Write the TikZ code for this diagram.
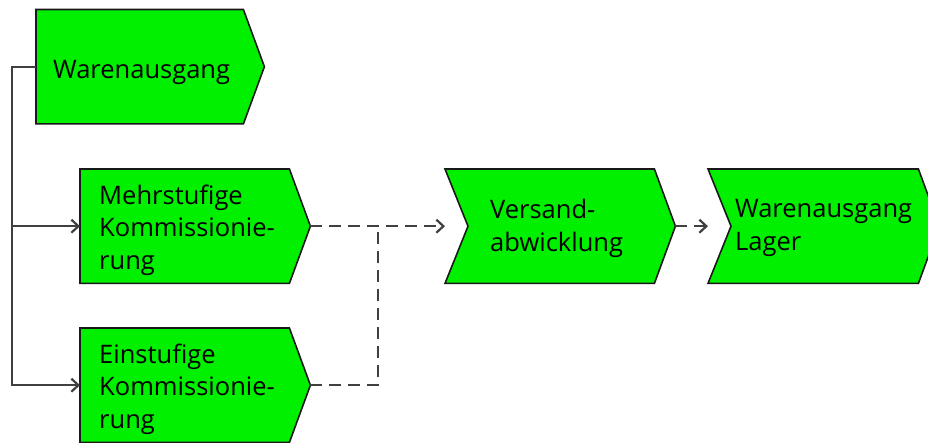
\documentclass[tikz,border=0pt]{standalone}
\usepackage{fontspec}
\setmainfont{Open Sans}
\usetikzlibrary{arrows.meta,calc,backgrounds}
\definecolor{fngreen}{RGB}{0,240,0}
\definecolor{conngray}{RGB}{64,64,64}
\newcommand{\lowr}[2]{\raisebox{-#1pt}[\height][\depth]{#2}}
\tikzset{
  fn/.style={minimum height=114, inner ysep=0, anchor=north west, align=left,
    font=\fontsize{25.5}{32.5}\selectfont, text=black, draw=none},
  fnshape/.style={fill=fngreen, draw=black!90, line width=1.6pt, line join=miter},
  conn/.style={draw=conngray, line width=2pt},
  dconn/.style={conn, dash pattern=on 12pt off 7pt},
  tip/.style={-{Straight Barb[length=7pt,width=13pt,line width=2.2pt]}}
}
\begin{document}
\begin{tikzpicture}[x=1pt,y=-1pt]
\path[use as bounding box, clip] (0,0) rectangle (928,443);
% function nodes (bodies)
\node[fn, inner xsep=17, text width=173] (wa) at (36,9.5) {\lowr{6}{Warenausgang}};
\node[fn, inner xsep=19, text width=171] (mehr) at (80,169) {\lowr{4}{Mehrstufige}\\\lowr{4}{Kommissionie-}\\\lowr{4}{rung}};
\node[fn, inner xsep=19, text width=171] (ein) at (80,328) {\lowr{4}{Einstufige}\\\lowr{4}{Kommissionie-}\\\lowr{4}{rung}};
\node[fn, inner xsep=45, text width=119] (vers) at (445,169) {\lowr{2}{Versand-}\\\lowr{2}{abwicklung}};
\node[fn, inner xsep=27, text width=156] (lager) at (708,169) {\lowr{2}{Warenausgang}\\\lowr{2}{Lager}};
% tip coordinates
\coordinate (watip) at ($(wa.east)+(21,0)$);
\coordinate (mehrtip) at ($(mehr.east)+(21,0)$);
\coordinate (eintip) at ($(ein.east)+(21,0)$);
\coordinate (verstip) at ($(vers.east)+(21,0)$);
\coordinate (lagertip) at ($(lager.east)+(21,0)$);
\begin{pgfonlayer}{background}
\draw[fnshape] (wa.north west) -- (wa.north east) -- (watip) -- (wa.south east) -- (wa.south west) -- cycle;
\draw[fnshape] (mehr.north west) -- (mehr.north east) -- (mehrtip) -- (mehr.south east) -- (mehr.south west) -- cycle;
\draw[fnshape] (ein.north west) -- (ein.north east) -- (eintip) -- (ein.south east) -- (ein.south west) -- cycle;
\draw[fnshape] (vers.north west) -- (vers.north east) -- (verstip) -- (vers.south east) -- (vers.south west) -- ($(vers.west)+(23,0)$) -- cycle;
\draw[fnshape] (lager.north west) -- (lager.north east) -- (lagertip) -- (lager.south east) -- (lager.south west) -- ($(lager.west)+(23,0)$) -- cycle;
\end{pgfonlayer}
% connectors
\draw[conn, tip] (wa.west) -| ([xshift=-68]ein.west) -- (ein.west);
\draw[conn, tip] ([xshift=-68]mehr.west) -- (mehr.west);
\draw[dconn, tip] (mehrtip) -- (vers.west);
\draw[dconn] (eintip) -| ([xshift=68]mehrtip);
\draw[dconn, tip] (verstip) -- (lager.west);
\end{tikzpicture}
\end{document}
